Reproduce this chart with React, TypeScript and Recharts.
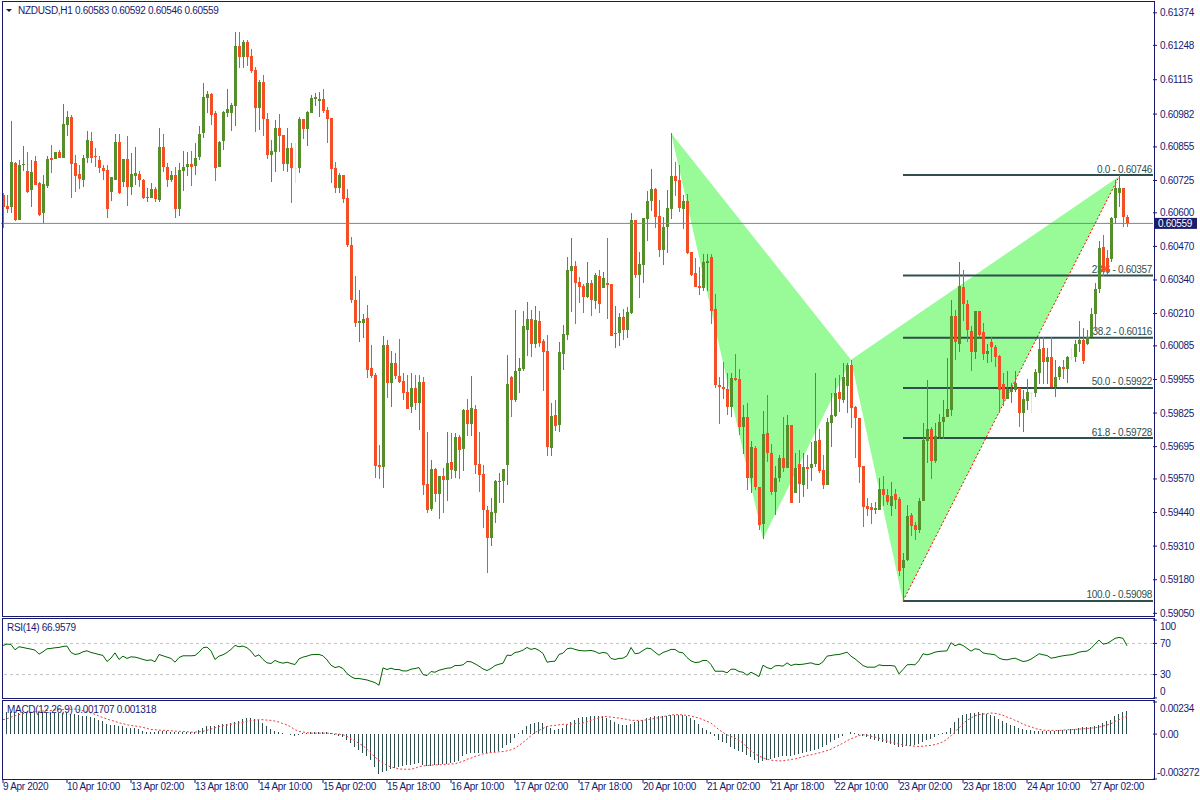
import React from "react";
import {
  ComposedChart,
  Bar,
  Line,
  XAxis,
  YAxis,
  ReferenceLine,
  ReferenceArea,
} from "recharts";

// NZDUSD H1, 9 Apr 18:00 .. 27 Apr 11:00 (one entry per bar)
const opens = [
  0.60669, 0.60627, 0.60624, 0.60794, 0.60573, 0.60786, 0.60761, 0.60689, 0.608, 0.60717,
  0.60598, 0.60705, 0.60811, 0.60808, 0.60837, 0.60814, 0.6094, 0.60969, 0.60792, 0.60751,
  0.60727, 0.60811, 0.60878, 0.60818, 0.60805, 0.60774, 0.60766, 0.60682, 0.60727, 0.60874,
  0.6072, 0.60809, 0.60701, 0.60744, 0.60751, 0.60727, 0.60657, 0.60659, 0.60693, 0.6065,
  0.60856, 0.60778, 0.60727, 0.60747, 0.60615, 0.60762, 0.60776, 0.60789, 0.60782, 0.60816,
  0.60909, 0.61045, 0.6106, 0.60987, 0.60778, 0.60878, 0.60987, 0.60987, 0.61014, 0.61246,
  0.61203, 0.61261, 0.61207, 0.61153, 0.61006, 0.61107, 0.60963, 0.60824, 0.60836, 0.60929,
  0.60902, 0.60789, 0.60851, 0.60774, 0.60774, 0.60963, 0.60925, 0.60987, 0.61041, 0.61033,
  0.61041, 0.60998, 0.60967, 0.60774, 0.60696, 0.60747, 0.60658, 0.60476, 0.60263, 0.60174,
  0.60174, 0.60193, 0.6, 0.59973, 0.59624, 0.59617, 0.60089, 0.59942, 0.60019, 0.59969,
  0.5995, 0.59907, 0.59849, 0.59922, 0.59864, 0.59946, 0.59551, 0.59454, 0.59609, 0.59512,
  0.59582, 0.59566, 0.59636, 0.59601, 0.59733, 0.59686, 0.59837, 0.59783, 0.59841, 0.59628,
  0.5959, 0.5945, 0.59342, 0.59439, 0.59559, 0.59563, 0.59624, 0.59965, 0.59876, 0.59988,
  0.59996, 0.60147, 0.6019, 0.60093, 0.60182, 0.60104, 0.60066, 0.5969, 0.59818, 0.59779,
  0.60054, 0.60128, 0.60375, 0.60395, 0.60333, 0.60317, 0.60275, 0.60329, 0.60259, 0.60356,
  0.60309, 0.60329, 0.60325, 0.60131, 0.60135, 0.60197, 0.60147, 0.60213, 0.60573, 0.6036,
  0.60398, 0.60577, 0.60646, 0.60693, 0.60588, 0.60457, 0.60546, 0.60615, 0.60743, 0.60727,
  0.60615, 0.60646, 0.60449, 0.60367, 0.60317, 0.60309, 0.60406, 0.60429, 0.60228, 0.59934,
  0.59926, 0.59919, 0.59849, 0.59961, 0.59957, 0.59772, 0.5981, 0.59574, 0.5969, 0.59539,
  0.59396, 0.59748, 0.59671, 0.5952, 0.59574, 0.59652, 0.59613, 0.59779, 0.59516, 0.59628,
  0.59547, 0.59617, 0.59613, 0.59628, 0.59721, 0.59605, 0.59547, 0.59787, 0.59814, 0.59907,
  0.59876, 0.5993, 0.60011, 0.59849, 0.59806, 0.59621, 0.59466, 0.59462, 0.5945, 0.5945,
  0.59532, 0.59508, 0.59466, 0.59512, 0.59493, 0.59226, 0.59257, 0.59431, 0.59392, 0.59373,
  0.59485, 0.59717, 0.59764, 0.5964, 0.59733, 0.59791, 0.5981, 0.59837, 0.60201, 0.60093,
  0.60313, 0.60248, 0.60143, 0.60062, 0.6022, 0.60139, 0.60054, 0.601, 0.60081, 0.60046,
  0.59938, 0.5988, 0.59907, 0.59915, 0.59922, 0.59826, 0.59872, 0.59903, 0.59903, 0.59981,
  0.60077, 0.60023, 0.60042, 0.59926, 0.59965, 0.60004, 0.59996, 0.60042, 0.60042, 0.60093,
  0.60108, 0.60093, 0.6012, 0.60209, 0.60306, 0.60468, 0.60426, 0.60422, 0.6058, 0.60677,
  0.60696, 0.60583,
];

const highs = [
  0.60678, 0.60669, 0.60956, 0.60798, 0.60805, 0.6086, 0.60837, 0.60805, 0.6082, 0.60721,
  0.60747, 0.60818, 0.60863, 0.60835, 0.60844, 0.61022, 0.60994, 0.60979, 0.60824, 0.60785,
  0.60824, 0.60917, 0.60912, 0.6085, 0.60818, 0.60785, 0.60785, 0.6074, 0.60904, 0.60905,
  0.60809, 0.60898, 0.60831, 0.60855, 0.6076, 0.6073, 0.60695, 0.60717, 0.60701, 0.6093,
  0.60905, 0.60792, 0.6076, 0.60779, 0.60794, 0.6084, 0.60837, 0.6084, 0.60871, 0.60936,
  0.61103, 0.61072, 0.61064, 0.60994, 0.60878, 0.60994, 0.6108, 0.61025, 0.613, 0.613,
  0.61269, 0.61269, 0.61234, 0.61165, 0.61114, 0.61134, 0.60987, 0.60882, 0.6096, 0.60983,
  0.60902, 0.60929, 0.60871, 0.60871, 0.60971, 0.60963, 0.60994, 0.61056, 0.61064, 0.61068,
  0.6108, 0.6101, 0.60967, 0.60797, 0.60754, 0.60747, 0.60693, 0.60507, 0.60356, 0.60302,
  0.60209, 0.60244, 0.60089, 0.59981, 0.59702, 0.60124, 0.60108, 0.60066, 0.60058, 0.60112,
  0.59981, 0.59973, 0.59981, 0.59973, 0.59973, 0.59965, 0.59752, 0.59644, 0.59613, 0.59582,
  0.59613, 0.59752, 0.59748, 0.59748, 0.59741, 0.59841, 0.5988, 0.59969, 0.59857, 0.59752,
  0.59624, 0.59466, 0.59497, 0.59566, 0.59594, 0.59609, 0.6005, 0.59969, 0.60224, 0.60039,
  0.6022, 0.60255, 0.60224, 0.6024, 0.6022, 0.60112, 0.60128, 0.59864, 0.59876, 0.601,
  0.60166, 0.60429, 0.60503, 0.60414, 0.60352, 0.60325, 0.6041, 0.6034, 0.60367, 0.60379,
  0.60371, 0.60503, 0.60325, 0.6024, 0.60213, 0.60228, 0.60236, 0.606, 0.60573, 0.60449,
  0.6058, 0.60685, 0.6077, 0.60696, 0.6065, 0.60584, 0.60689, 0.60909, 0.60797, 0.60785,
  0.60669, 0.60673, 0.60449, 0.60426, 0.60391, 0.60441, 0.60441, 0.60441, 0.60286, 0.59965,
  0.60023, 0.59981, 0.59981, 0.60054, 0.59996, 0.59857, 0.59864, 0.59717, 0.59698, 0.59539,
  0.59833, 0.59895, 0.59706, 0.59621, 0.59663, 0.5981, 0.59818, 0.59779, 0.59671, 0.59683,
  0.59671, 0.59663, 0.59713, 0.59981, 0.59764, 0.59663, 0.59806, 0.59903, 0.59961, 0.59973,
  0.60019, 0.60019, 0.60031, 0.59853, 0.59806, 0.59621, 0.59497, 0.59477, 0.59481, 0.59574,
  0.59582, 0.59532, 0.59559, 0.59532, 0.59501, 0.59284, 0.5947, 0.59439, 0.59404, 0.59497,
  0.59787, 0.59953, 0.59772, 0.59787, 0.59822, 0.59876, 0.60039, 0.60263, 0.60224, 0.6041,
  0.60379, 0.60263, 0.60162, 0.6022, 0.6022, 0.60174, 0.60093, 0.6012, 0.60089, 0.6005,
  0.59981, 0.59988, 0.59942, 0.59988, 0.59922, 0.59915, 0.59957, 0.59907, 0.59996, 0.6012,
  0.6012, 0.60077, 0.6012, 0.60031, 0.60008, 0.60031, 0.60046, 0.60077, 0.60108, 0.60182,
  0.60155, 0.60147, 0.60232, 0.60329, 0.60491, 0.60515, 0.60457, 0.60584, 0.60727, 0.60746,
  0.60696, 0.60592,
];

const lows = [
  0.60543, 0.60598, 0.60598, 0.6057, 0.60573, 0.6076, 0.60678, 0.60622, 0.60707, 0.60589,
  0.6056, 0.60695, 0.60753, 0.60808, 0.60811, 0.60814, 0.60899, 0.60659, 0.60682, 0.60693,
  0.60701, 0.60792, 0.60792, 0.60776, 0.60753, 0.60727, 0.60581, 0.60646, 0.60727, 0.60672,
  0.60698, 0.60628, 0.60669, 0.60708, 0.60701, 0.60653, 0.6064, 0.60659, 0.6064, 0.60643,
  0.60757, 0.60701, 0.60721, 0.60581, 0.60588, 0.60685, 0.60744, 0.60705, 0.60747, 0.60805,
  0.6089, 0.60987, 0.6094, 0.60724, 0.60778, 0.60844, 0.60971, 0.60917, 0.60936, 0.61161,
  0.61161, 0.61169, 0.61141, 0.60913, 0.60921, 0.60898, 0.60809, 0.6072, 0.60758, 0.60836,
  0.60762, 0.60758, 0.60638, 0.60716, 0.60754, 0.60886, 0.60859, 0.60987, 0.61014, 0.60971,
  0.60987, 0.60871, 0.60716, 0.60677, 0.60677, 0.60638, 0.60468, 0.60251, 0.60159, 0.601,
  0.60116, 0.59961, 0.59961, 0.59574, 0.5957, 0.59535, 0.59884, 0.59849, 0.59957, 0.59942,
  0.59876, 0.59841, 0.59826, 0.59837, 0.5976, 0.59508, 0.59439, 0.59446, 0.59481, 0.59415,
  0.59439, 0.59485, 0.5957, 0.59574, 0.5957, 0.59601, 0.59737, 0.59737, 0.5959, 0.5952,
  0.59381, 0.59207, 0.59311, 0.594, 0.59477, 0.59477, 0.59547, 0.5981, 0.59868, 0.59903,
  0.59988, 0.60046, 0.60042, 0.60077, 0.60081, 0.59911, 0.59659, 0.59659, 0.59756, 0.59752,
  0.59992, 0.60108, 0.60217, 0.6017, 0.60251, 0.60213, 0.60271, 0.60201, 0.60228, 0.60213,
  0.60309, 0.6019, 0.60124, 0.60077, 0.60085, 0.60108, 0.60116, 0.60209, 0.60348, 0.60271,
  0.60329, 0.60491, 0.60607, 0.60542, 0.60429, 0.60398, 0.60445, 0.60577, 0.60666, 0.60604,
  0.60538, 0.60441, 0.60356, 0.60313, 0.60282, 0.60298, 0.60298, 0.6017, 0.59922, 0.59783,
  0.5988, 0.59818, 0.5981, 0.5995, 0.59741, 0.59667, 0.59528, 0.59516, 0.59528, 0.59373,
  0.59338, 0.59636, 0.59508, 0.59431, 0.59559, 0.59597, 0.59613, 0.59477, 0.59516, 0.59477,
  0.59501, 0.59532, 0.59563, 0.59617, 0.59594, 0.59532, 0.59547, 0.59694, 0.5981, 0.5983,
  0.59864, 0.59826, 0.59768, 0.59652, 0.59555, 0.59385, 0.59427, 0.59396, 0.59435, 0.5945,
  0.59466, 0.5947, 0.59427, 0.59454, 0.59195, 0.59098, 0.59253, 0.5935, 0.59334, 0.59361,
  0.59485, 0.59632, 0.5957, 0.59632, 0.59725, 0.59725, 0.5981, 0.59814, 0.60031, 0.60062,
  0.60182, 0.601, 0.59988, 0.60035, 0.60116, 0.60031, 0.60019, 0.60023, 0.60004, 0.59826,
  0.59853, 0.5988, 0.59864, 0.59907, 0.59772, 0.59752, 0.59837, 0.59826, 0.59888, 0.59938,
  0.59938, 0.59938, 0.59926, 0.59888, 0.59953, 0.59957, 0.59942, 0.60031, 0.60023, 0.60062,
  0.60015, 0.60089, 0.6012, 0.60143, 0.6029, 0.60356, 0.6036, 0.6041, 0.60557, 0.60623,
  0.60546, 0.60546,
];

const closes = [
  0.60624, 0.60616, 0.60796, 0.60573, 0.60785, 0.60788, 0.60682, 0.60756, 0.60708, 0.60592,
  0.60712, 0.60809, 0.60805, 0.60835, 0.60814, 0.60944, 0.6097, 0.6079, 0.60743, 0.60731,
  0.60814, 0.60882, 0.60812, 0.60815, 0.60773, 0.60763, 0.60615, 0.6074, 0.60873, 0.60676,
  0.60809, 0.60698, 0.60752, 0.60754, 0.60727, 0.60659, 0.60663, 0.60693, 0.60655, 0.60856,
  0.60779, 0.60727, 0.60747, 0.60615, 0.60766, 0.60779, 0.60789, 0.60779, 0.60812, 0.60905,
  0.61049, 0.6106, 0.60979, 0.60774, 0.60874, 0.60991, 0.61002, 0.61018, 0.61246, 0.61203,
  0.61261, 0.61203, 0.61149, 0.61006, 0.61107, 0.60963, 0.60824, 0.6084, 0.60929, 0.60898,
  0.60789, 0.60851, 0.60774, 0.60774, 0.60963, 0.60925, 0.60991, 0.61045, 0.61049, 0.61041,
  0.60994, 0.60963, 0.6077, 0.60696, 0.60747, 0.60654, 0.60476, 0.60263, 0.60174, 0.60182,
  0.6019, 0.59992, 0.59969, 0.59621, 0.59617, 0.60089, 0.59942, 0.60019, 0.59969, 0.59946,
  0.59903, 0.59841, 0.59922, 0.59864, 0.59946, 0.59547, 0.5945, 0.59609, 0.59512, 0.59582,
  0.59566, 0.59632, 0.59605, 0.59733, 0.59683, 0.59837, 0.59783, 0.59845, 0.59624, 0.59586,
  0.5945, 0.59342, 0.59443, 0.59563, 0.59563, 0.59609, 0.59938, 0.59876, 0.59988, 0.6,
  0.60162, 0.6019, 0.60093, 0.60186, 0.60097, 0.60062, 0.59694, 0.59814, 0.59775, 0.60062,
  0.60131, 0.60379, 0.60395, 0.60329, 0.60313, 0.60275, 0.60329, 0.60263, 0.6036, 0.60248,
  0.60348, 0.60321, 0.60124, 0.60135, 0.60197, 0.60147, 0.60217, 0.60573, 0.6036, 0.60402,
  0.6058, 0.60646, 0.60693, 0.60584, 0.60457, 0.60546, 0.60619, 0.60743, 0.60724, 0.60619,
  0.60646, 0.60445, 0.6036, 0.60313, 0.60309, 0.6041, 0.60414, 0.6022, 0.59934, 0.59926,
  0.59919, 0.59849, 0.59961, 0.59953, 0.59772, 0.5981, 0.59574, 0.59694, 0.59539, 0.59392,
  0.59744, 0.59671, 0.5952, 0.59574, 0.59652, 0.59613, 0.59779, 0.59477, 0.59613, 0.59551,
  0.59617, 0.59609, 0.59628, 0.59717, 0.59601, 0.59547, 0.59791, 0.59818, 0.59903, 0.5988,
  0.59965, 0.60011, 0.59845, 0.59806, 0.59617, 0.59462, 0.59454, 0.5945, 0.59458, 0.59532,
  0.59508, 0.59481, 0.59505, 0.59489, 0.59214, 0.59257, 0.59427, 0.59388, 0.59373, 0.59485,
  0.59721, 0.59764, 0.5964, 0.59737, 0.59791, 0.5981, 0.59841, 0.60201, 0.601, 0.60317,
  0.60248, 0.60147, 0.60062, 0.6022, 0.60128, 0.60054, 0.60066, 0.60081, 0.60042, 0.59915,
  0.5988, 0.59919, 0.59919, 0.59942, 0.59826, 0.5988, 0.59907, 0.59903, 0.59984, 0.60073,
  0.60023, 0.60042, 0.59926, 0.59965, 0.60004, 0.59996, 0.60042, 0.60042, 0.60093, 0.60108,
  0.60027, 0.6012, 0.60209, 0.60306, 0.60464, 0.60371, 0.60371, 0.6058, 0.60696, 0.60696,
  0.60584, 0.60559,
];

const rsi = [
  67.4, 69.1, 68.7, 61.8, 65.7, 64.8, 63.6, 62.7, 61.4, 56.2,
  59.3, 63.1, 63.6, 64.4, 64.8, 66.1, 66.6, 58.4, 55.8, 56.7,
  59.3, 60.5, 58.4, 57.1, 55.8, 54.5, 46.8, 51.1, 57.9, 49.4,
  53.7, 50.7, 52.8, 52.4, 51.1, 49.4, 48.1, 48.9, 46.4, 55.8,
  54.1, 52.4, 50.7, 45.9, 51.9, 54.1, 54.1, 54.1, 54.5, 58.8,
  64.4, 65.3, 60.5, 49.4, 53.7, 55.4, 58.4, 62.3, 67.4, 65.7,
  66.6, 64.4, 60.1, 53.2, 55.4, 49.4, 45.1, 44.2, 48.1, 45.9,
  44.6, 45.9, 44.2, 42.9, 50.2, 52.4, 53.7, 55.4, 55.8, 55.8,
  54.1, 48.9, 42.0, 39.0, 40.3, 37.8, 31.3, 27.4, 24.9, 24.9,
  24.0, 23.1, 21.4, 19.7, 16.3, 38.6, 36.5, 38.2, 36.5, 36.5,
  34.7, 34.7, 36.9, 37.8, 39.0, 30.0, 28.7, 33.9, 33.0, 35.6,
  36.9, 38.2, 38.6, 41.6, 41.6, 42.5, 46.8, 46.4, 43.8, 40.8,
  37.3, 35.2, 37.8, 41.6, 43.3, 44.6, 54.9, 54.5, 58.4, 59.3,
  61.4, 64.8, 62.3, 63.6, 61.0, 57.1, 45.9, 46.8, 47.2, 55.8,
  57.5, 63.1, 64.0, 62.3, 61.0, 60.5, 60.5, 61.0, 59.7, 57.1,
  58.4, 57.5, 50.7, 49.4, 50.7, 51.1, 54.1, 64.8, 56.7, 57.5,
  61.0, 64.0, 63.1, 58.8, 54.9, 58.4, 60.1, 62.3, 62.3, 58.8,
  57.9, 51.9, 47.6, 45.5, 45.9, 48.1, 48.1, 42.9, 34.3, 34.3,
  34.3, 32.2, 36.9, 36.9, 33.9, 33.0, 29.2, 33.0, 30.4, 27.4,
  42.0, 39.0, 37.3, 41.2, 41.6, 40.8, 45.1, 41.6, 43.3, 42.9,
  43.3, 44.2, 45.1, 43.3, 42.9, 46.4, 53.7, 54.5, 55.4, 55.8,
  57.1, 58.8, 53.7, 50.2, 45.9, 41.6, 39.5, 39.5, 39.5, 42.5,
  41.6, 41.6, 41.6, 40.8, 30.9, 36.5, 42.5, 42.9, 42.5, 48.1,
  56.7, 55.4, 56.7, 58.8, 59.7, 60.1, 60.5, 70.9, 67.0, 69.1,
  67.4, 63.6, 60.1, 63.1, 62.3, 57.9, 56.7, 56.2, 55.4, 51.1,
  49.4, 48.9, 50.2, 51.1, 48.9, 46.8, 47.6, 49.8, 53.2, 56.7,
  55.4, 54.5, 51.1, 51.9, 53.2, 54.1, 54.9, 55.4, 56.7, 58.8,
  59.7, 60.1, 63.6, 69.1, 74.3, 69.1, 70.0, 73.0, 76.5, 77.7,
  76.5, 66.96,
];

// MACD(12,26,9) main and signal, in points (1 point = 0.00001)
const macdMain = [
  159, 159, 163, 159, 154, 159, 154, 154, 159, 159,
  159, 154, 154, 154, 156, 154, 154, 149, 144, 137,
  129, 129, 124, 115, 100, 93, 73, 68, 66, 56,
  56, 46, 46, 41, 37, 22, 17, 15, 15, 20,
  20, 20, 17, 17, 15, 15, 12, 12, 17, 27,
  41, 56, 61, 56, 66, 71, 73, 81, 90, 98,
  110, 117, 117, 110, 100, 81, 56, 37, 24, 15,
  7, 2, -7, -12, -2, 7, 10, 12, 15, 15,
  12, 12, 7, -2, -12, -22, -41, -66, -95, -115,
  -139, -159, -188, -237, -290, -276, -268, -256, -249, -242,
  -232, -227, -222, -217, -212, -222, -232, -229, -227, -224,
  -220, -217, -212, -203, -193, -163, -144, -139, -139, -139,
  -139, -139, -134, -132, -120, -102, -78, -66, -29, 7,
  32, 56, 71, 81, 90, 81, 56, 41, 32, 37,
  46, 66, 90, 105, 120, 124, 127, 129, 129, 129,
  129, 117, 105, 90, 76, 66, 68, 76, 85, 95,
  105, 115, 124, 129, 134, 134, 134, 137, 142, 142,
  142, 134, 120, 100, 76, 44, 27, 12, -12, -41,
  -59, -68, -95, -107, -120, -134, -154, -168, -188, -207,
  -198, -188, -181, -176, -168, -163, -159, -159, -154, -146,
  -139, -132, -122, -115, -105, -95, -76, -61, -46, -27,
  -12, 2, 12, 7, -2, -12, -22, -34, -41, -51,
  -59, -66, -73, -81, -95, -95, -90, -85, -78, -71,
  -59, -46, -37, -22, -5, 7, 17, 44, 85, 117,
  142, 149, 154, 156, 159, 154, 149, 139, 129, 110,
  98, 81, 68, 56, 44, 37, 32, 27, 24, 24,
  24, 24, 24, 24, 27, 29, 32, 37, 39, 44,
  49, 51, 54, 56, 68, 81, 93, 105, 129, 149,
  163, 171,
];

const macdSignal = [
  105, 112, 124, 134, 142, 149, 154, 159, 163, 166,
  168, 171, 173, 176, 178, 178, 181, 181, 183, 178,
  171, 163, 154, 144, 132, 120, 110, 100, 93, 83,
  76, 68, 63, 59, 54, 49, 41, 34, 32, 29,
  27, 27, 24, 22, 20, 20, 17, 15, 15, 17,
  20, 27, 37, 46, 54, 61, 66, 71, 76, 81,
  85, 93, 98, 102, 105, 105, 102, 100, 95, 88,
  76, 68, 51, 32, 20, 15, 10, 7, 7, 7,
  7, 7, 5, 2, 0, -5, -17, -34, -51, -68,
  -85, -110, -139, -168, -193, -212, -229, -239, -246, -254,
  -256, -256, -256, -249, -237, -232, -229, -227, -224, -224,
  -222, -220, -217, -217, -207, -198, -183, -176, -163, -154,
  -144, -139, -134, -132, -129, -127, -122, -115, -102, -83,
  -61, -37, -12, 12, 27, 41, 56, 61, 63, 68,
  71, 71, 73, 76, 78, 81, 90, 100, 110, 117,
  129, 127, 124, 120, 117, 112, 107, 100, 100, 100,
  100, 105, 110, 115, 120, 127, 134, 139, 142, 142,
  139, 137, 132, 124, 117, 105, 93, 81, 56, 32,
  12, -5, -17, -29, -46, -66, -95, -120, -144, -159,
  -173, -183, -190, -193, -195, -195, -190, -185, -181, -173,
  -166, -156, -151, -144, -137, -129, -120, -110, -95, -81,
  -66, -49, -34, -22, -10, -5, -7, -15, -22, -29,
  -41, -49, -59, -66, -73, -78, -83, -85, -88, -90,
  -88, -85, -83, -76, -68, -56, -37, -12, 17, 46,
  76, 100, 117, 134, 142, 146, 149, 154, 151, 146,
  137, 124, 115, 100, 88, 73, 61, 54, 41, 34,
  29, 27, 27, 27, 27, 29, 32, 32, 34, 37,
  39, 41, 44, 46, 51, 59, 66, 76, 93, 105,
  117, 132,
];

const timeLabels = [
  "9 Apr 2020", "10 Apr 10:00", "13 Apr 02:00", "13 Apr 18:00", "14 Apr 10:00",
  "15 Apr 02:00", "15 Apr 18:00", "16 Apr 10:00", "17 Apr 02:00", "17 Apr 18:00",
  "20 Apr 10:00", "21 Apr 02:00", "21 Apr 18:00", "22 Apr 10:00", "23 Apr 02:00",
  "23 Apr 18:00", "24 Apr 10:00", "27 Apr 02:00",
];
const timeTickBars = [0, 16, 32, 48, 64, 80, 96, 112, 128, 144, 160, 176, 192, 208, 224, 240, 256, 272];

const priceTicks = [
  0.61374, 0.61248, 0.61115, 0.60982, 0.60855, 0.60725, 0.606, 0.6047, 0.6034, 0.6021,
  0.60085, 0.59955, 0.59825, 0.59695, 0.5957, 0.5944, 0.5931, 0.5918, 0.5905,
];
const rsiTicks = [100, 70, 30, 0];
const rsiLevels = [70, 30];
const macdTicks = [0.00234, 0, -0.003272];
const macdTickText = ["0.00234", "0.00", "-0.003272"];

const lastPrice = 0.60559;

// harmonic pattern points X, A, B, C, D (bar index / price)
const patternBars = [167, 190, 212, 225, 279];
const patternPrices = [0.60909, 0.59338, 0.60031, 0.59098, 0.6074];

const fibLevels = [0.60746, 0.60357, 0.60116, 0.59922, 0.59728, 0.59098];
const fibNames = ["0.0", "23.6", "38.2", "50.0", "61.8", "100.0"];

// layout
const W = 1200;
const H = 800;
const PLOT_LEFT = 1;
const AXIS_W = 47;
const MAIN_TOP = 2;
const MAIN_BOTTOM = 616;
const RSI_TOP = 620;
const RSI_BOTTOM = 698;
const MACD_TOP = 702;
const MACD_BOTTOM = 779;
const X_DOMAIN: [number, number] = [-0.5, 287.5];
const MAIN_DOMAIN: [number, number] = [0.590396, 0.614158];
const RSI_DOMAIN: [number, number] = [-0.05, 100.05];
const MACD_DOMAIN: [number, number] = [-0.003272, 0.00234];

const NAVY = "#191970";
const GREEN = "#578e2c";
const RED = "#f44e25";
const DOJI = "#ece2d2";
const PALE = "#98fb98";
const SLATE = "#2f4f4f";
const FONT = "'Liberation Sans', Arial, sans-serif";
const textStyle = { letterSpacing: "-0.3px" };

const candles = closes.map((c, i) => ({
  i,
  o: opens[i],
  h: highs[i],
  l: lows[i],
  c,
  range: [lows[i], highs[i]],
}));
const rsiRows = rsi.map((v, i) => ({ i, rsi: v }));
const macdRows = macdMain.map((v, i) => ({ i, macd: v / 1e5, signal: macdSignal[i] / 1e5 }));

function Candle(props: any) {
  const { x, y, width, height, payload } = props;
  if (x == null || !payload) return null;
  const { o, h, l, c } = payload;
  const k = h > l ? height / (h - l) : 0;
  const cx = Math.round(x + width / 2);
  const py = (v: number) => y + (h - v) * k;
  const top = Math.round(py(Math.max(o, c)));
  const bot = Math.round(py(Math.min(o, c)));
  const color = o === c ? DOJI : c > o ? GREEN : RED;
  const wTop = Math.round(y);
  const wBot = Math.round(y + height);
  return (
    <g shapeRendering="crispEdges">
      <rect x={cx} y={wTop} width={1} height={Math.max(1, wBot - wTop)} fill={color} />
      <rect x={cx - 1} y={top} width={3} height={Math.max(1, bot - top)} fill={color} />
    </g>
  );
}

function HistBar(props: any) {
  const { x, y, width, height } = props;
  if (x == null) return null;
  const top = Math.min(y, y + height);
  return (
    <rect
      x={Math.round(x + width / 2 - 0.5)}
      y={top}
      width={1}
      height={Math.max(Math.abs(height), 0.5)}
      fill={SLATE}
      shapeRendering="crispEdges"
    />
  );
}

function triangle(ids: number[]) {
  const xs = ids.map((k) => patternBars[k]);
  const ps = ids.map((k) => patternPrices[k]);
  const x0 = Math.min(...xs);
  const x1 = Math.max(...xs);
  const p0 = Math.min(...ps);
  const p1 = Math.max(...ps);
  const shape = (props: any) => {
    const { x, y, width, height } = props;
    const pts = xs
      .map((bx, n) => `${x + ((bx - x0) / (x1 - x0)) * width},${y + ((p1 - ps[n]) / (p1 - p0)) * height}`)
      .join(" ");
    return <polygon points={pts} fill={PALE} stroke="none" />;
  };
  return { x0, x1, p0, p1, shape };
}

const triXAB = triangle([0, 1, 2]);
const triBCD = triangle([2, 3, 4]);

function FibLabel(props: any) {
  const vb = props.viewBox || {};
  const right = vb.x2 != null ? Math.max(vb.x1, vb.x2) : vb.x + vb.width;
  const y = vb.y1 != null ? vb.y1 : vb.y;
  return (
    <text x={right - 1} y={y - 2.5} textAnchor="end" fill={SLATE} fontSize={10} fontFamily={FONT} style={textStyle}>
      {props.caption}
    </text>
  );
}

function PriceBox(props: any) {
  const vb = props.viewBox || {};
  const x = vb.x + vb.width + 2;
  const y = vb.y;
  return (
    <g>
      <rect x={x} y={y - 5.5} width={42} height={11} fill="#1c1c6c" />
      <text x={x + 3} y={y + 3.6} fill="#ffffff" fontSize={10} fontFamily={FONT} style={textStyle}>
        {props.caption}
      </text>
    </g>
  );
}

function PriceTick(props: any) {
  const { x, y, payload } = props;
  return (
    <text x={x} y={y} dy="0.35em" fill={NAVY} fontSize={10} fontFamily={FONT} style={textStyle}>
      {payload.value.toFixed(5)}
    </text>
  );
}

function RsiTick(props: any) {
  const { x, y, payload } = props;
  const v = Number(payload.value);
  if (v <= 0) return null; // bottom label is written in the caption layer
  const shift = v >= 100 ? 6 : 0;
  return (
    <text x={x} y={y + shift} dy="0.35em" fill={NAVY} fontSize={10} fontFamily={FONT} style={textStyle}>
      {String(v)}
    </text>
  );
}

function MacdTick(props: any) {
  const { x, y, payload } = props;
  const idx = macdTicks.indexOf(payload.value);
  const shift = idx === 0 ? 6 : idx === 2 ? -7 : 0.5;
  return (
    <text x={idx === 2 ? x - 3 : x} y={y + shift} dy="0.35em" fill={NAVY} fontSize={10} fontFamily={FONT} style={textStyle}>
      {macdTickText[idx]}
    </text>
  );
}

function TimeTick(props: any) {
  const { x, y, payload } = props;
  const idx = timeTickBars.indexOf(payload.value);
  return (
    <text x={x} y={y + 7} fill={NAVY} fontSize={10} fontFamily={FONT} style={textStyle}>
      {timeLabels[idx]}
    </text>
  );
}

const layer: React.CSSProperties = { position: "absolute", left: 0, top: 0 };

export default function App() {
  return (
    <div style={{ position: "absolute", left: 0, top: 0, width: W, height: H, background: "#ffffff", overflow: "hidden" }}>
      {/* pattern, fibonacci and trendline drawn behind the candles */}
      <div style={layer}>
        <ComposedChart
          width={W}
          height={H}
          data={candles}
          margin={{ top: MAIN_TOP, right: AXIS_W, bottom: H - MAIN_BOTTOM, left: PLOT_LEFT }}
        >
          <XAxis type="number" dataKey="i" domain={X_DOMAIN} hide allowDataOverflow />
          <YAxis type="number" domain={MAIN_DOMAIN} hide allowDataOverflow />
          <ReferenceArea
            x1={triXAB.x0}
            x2={triXAB.x1}
            y1={triXAB.p0}
            y2={triXAB.p1}
            ifOverflow="visible"
            shape={triXAB.shape}
          />
          <ReferenceArea
            x1={triBCD.x0}
            x2={triBCD.x1}
            y1={triBCD.p0}
            y2={triBCD.p1}
            ifOverflow="visible"
            shape={triBCD.shape}
          />
          {fibLevels.map((lv, n) => (
            <ReferenceLine
              key={lv}
              segment={[
                { x: patternBars[3], y: lv },
                { x: X_DOMAIN[1], y: lv },
              ]}
              stroke={SLATE}
              strokeWidth={2}
              ifOverflow="visible"
              label={<FibLabel caption={`${fibNames[n]} - ${lv.toFixed(5)}`} />}
            />
          ))}
          <ReferenceLine
            segment={[
              { x: patternBars[3], y: patternPrices[3] },
              { x: patternBars[4], y: patternPrices[4] },
            ]}
            stroke="#ff0000"
            strokeDasharray="2 2"
            strokeWidth={1}
          />
          <Line dataKey="c" stroke="none" dot={false} isAnimationActive={false} />
        </ComposedChart>
      </div>

      {/* candles and price scale */}
      <div style={layer}>
        <ComposedChart
          width={W}
          height={H}
          data={candles}
          margin={{ top: MAIN_TOP, right: 0, bottom: H - MAIN_BOTTOM, left: PLOT_LEFT }}
        >
          <XAxis type="number" dataKey="i" domain={X_DOMAIN} hide allowDataOverflow />
          <YAxis
            type="number"
            orientation="right"
            width={AXIS_W}
            domain={MAIN_DOMAIN}
            ticks={priceTicks}
            interval={0}
            allowDataOverflow
            axisLine={false}
            tickSize={4}
            tickMargin={3}
            tickLine={{ stroke: NAVY }}
            tick={<PriceTick />}
          />
          <ReferenceLine y={lastPrice} stroke="#778899" strokeWidth={1} label={<PriceBox caption={lastPrice.toFixed(5)} />} />
          <Bar dataKey="range" barSize={3} shape={<Candle />} isAnimationActive={false} />
        </ComposedChart>
      </div>

      {/* RSI(14) */}
      <div style={layer}>
        <ComposedChart
          width={W}
          height={H}
          data={rsiRows}
          margin={{ top: RSI_TOP, right: 0, bottom: H - RSI_BOTTOM, left: PLOT_LEFT }}
        >
          <XAxis type="number" dataKey="i" domain={X_DOMAIN} hide allowDataOverflow />
          <YAxis
            type="number"
            orientation="right"
            width={AXIS_W}
            domain={RSI_DOMAIN}
            ticks={rsiTicks}
            interval={0}
            allowDataOverflow
            axisLine={false}
            tickSize={4}
            tickMargin={3}
            tickLine={{ stroke: NAVY }}
            tick={<RsiTick />}
          />
          {rsiLevels.map((lv) => (
            <ReferenceLine key={lv} y={lv} stroke="#c0c0c0" strokeDasharray="3 3" />
          ))}
          <Line type="linear" dataKey="rsi" stroke="#006400" strokeWidth={1} dot={false} isAnimationActive={false} />
        </ComposedChart>
      </div>

      {/* MACD(12,26,9) */}
      <div style={layer}>
        <ComposedChart
          width={W}
          height={H}
          data={macdRows}
          margin={{ top: MACD_TOP, right: 0, bottom: 0, left: PLOT_LEFT }}
        >
          <XAxis
            type="number"
            dataKey="i"
            domain={X_DOMAIN}
            allowDataOverflow
            ticks={timeTickBars}
            interval={0}
            height={H - MACD_BOTTOM}
            axisLine={false}
            tickSize={4}
            tickMargin={0}
            tickLine={{ stroke: NAVY }}
            tick={<TimeTick />}
          />
          <YAxis
            type="number"
            orientation="right"
            width={AXIS_W}
            domain={MACD_DOMAIN}
            ticks={macdTicks}
            interval={0}
            allowDataOverflow
            axisLine={false}
            tickSize={4}
            tickMargin={3}
            tickLine={{ stroke: NAVY }}
            tick={<MacdTick />}
          />
          <Bar dataKey="macd" barSize={1} shape={<HistBar />} isAnimationActive={false} />
          <Line
            type="linear"
            dataKey="signal"
            stroke="#f03c3c"
            strokeWidth={1}
            strokeDasharray="2 2"
            dot={false}
            isAnimationActive={false}
          />
        </ComposedChart>
      </div>

      {/* pane frames and captions */}
      <svg width={W} height={H} style={{ ...layer, pointerEvents: "none" }}>
        <g fill="none" stroke={NAVY} strokeWidth={1} shapeRendering="crispEdges">
          <rect x={2.5} y={1.5} width={1152} height={615} />
          <rect x={2.5} y={618.5} width={1152} height={80} />
          <rect x={2.5} y={700.5} width={1152} height={79} />
        </g>
        <polygon points="6,9 12,9 9,12" fill="#1a1a40" />
        <text x={18} y={14} fill={NAVY} fontSize={10} fontFamily={FONT} style={textStyle}>
          NZDUSD,H1 0.60583 0.60592 0.60546 0.60559
        </text>
        <text x={7} y={631} fill={NAVY} fontSize={10} fontFamily={FONT} style={textStyle}>
          RSI(14) 66.9579
        </text>
        <text x={7} y={712.5} fill={NAVY} fontSize={10} fontFamily={FONT} style={textStyle}>
          MACD(12,26,9) 0.001707 0.001318
        </text>
        <text
          x={W - AXIS_W + 7}
          y={RSI_BOTTOM - 7}
          dy="0.35em"
          fill={NAVY}
          fontSize={10}
          fontFamily={FONT}
          style={textStyle}
        >
          {String(rsiTicks[3])}
        </text>
      </svg>
    </div>
  );
}
